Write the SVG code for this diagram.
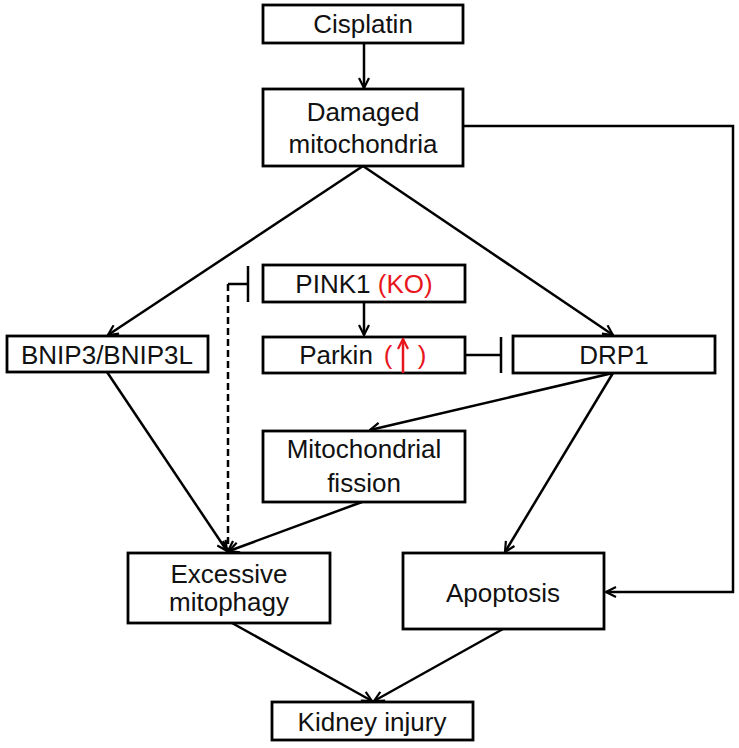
<svg xmlns="http://www.w3.org/2000/svg" width="739" height="748" viewBox="0 0 739 748">
<style>
.box{fill:#fff;stroke:#000;stroke-width:2.8}
.t{font-family:"Liberation Sans",Arial,sans-serif;font-size:26px;fill:#111;text-anchor:middle}
.red{fill:#e8161c}
.c{fill:none;stroke:#000;stroke-width:2.5}
</style>
<defs>
<marker id="ah" viewBox="0 0 12 12" refX="11" refY="6" markerWidth="12" markerHeight="12" markerUnits="userSpaceOnUse" orient="auto">
<path d="M1,1 L11,6 L1,11" fill="none" stroke="#000" stroke-width="2.2"/>
</marker>
<marker id="ahr" viewBox="0 0 12 12" refX="11" refY="6" markerWidth="12" markerHeight="12" markerUnits="userSpaceOnUse" orient="auto">
<path d="M1,1 L11,6 L1,11" fill="none" stroke="#e8161c" stroke-width="2.2"/>
</marker>
</defs>
<rect width="739" height="748" fill="#fff"/>
<g id="connectors">
<line class="c" x1="364" y1="43" x2="364" y2="88" marker-end="url(#ah)"/>
<polyline class="c" points="463,126 733,126 733,592 606,592" marker-end="url(#ah)"/>
<line class="c" x1="363" y1="166" x2="108" y2="335" marker-end="url(#ah)"/>
<line class="c" x1="363" y1="166" x2="613" y2="335" marker-end="url(#ah)"/>
<line class="c" x1="364" y1="302" x2="364" y2="335" marker-end="url(#ah)"/>
<line class="c" x1="465" y1="355" x2="501" y2="355"/>
<line class="c" x1="501" y1="337" x2="501" y2="373"/>
<line class="c" x1="228" y1="284" x2="248" y2="284"/>
<line class="c" x1="248" y1="266" x2="248" y2="302"/>
<line class="c" x1="228" y1="284" x2="228" y2="551" stroke-dasharray="7,4" marker-end="url(#ah)"/>
<line class="c" x1="107" y1="372" x2="227" y2="551" marker-end="url(#ah)"/>
<line class="c" x1="362" y1="502" x2="229" y2="551" marker-end="url(#ah)"/>
<line class="c" x1="613" y1="373" x2="370" y2="430" marker-end="url(#ah)"/>
<line class="c" x1="613" y1="373" x2="505" y2="552" marker-end="url(#ah)"/>
<line class="c" x1="232" y1="623" x2="372" y2="701" marker-end="url(#ah)"/>
<line class="c" x1="503" y1="629" x2="374" y2="701" marker-end="url(#ah)"/>
</g>
<g id="cisplatin"><rect class="box" x="263" y="5" width="200" height="38"/><text class="t" x="363" y="33">Cisplatin</text></g>
<g id="damaged"><rect class="box" x="263" y="89" width="200" height="77"/><text class="t" x="363" y="121">Damaged</text><text class="t" x="363" y="153">mitochondria</text></g>
<g id="pink1"><rect class="box" x="263" y="265" width="202" height="37"/><text class="t" x="364" y="293">PINK1 <tspan class="red">(KO)</tspan></text></g>
<g id="parkin"><rect class="box" x="263" y="337" width="202" height="36"/><text class="t" x="336" y="364">Parkin</text><text class="t red" x="388" y="364">(</text><text class="t red" x="422" y="364">)</text><line x1="403" y1="373" x2="403" y2="339" stroke="#e8161c" stroke-width="2.5" marker-end="url(#ahr)"/></g>
<g id="bnip3"><rect class="box" x="7" y="336" width="201" height="36"/><text class="t" x="107" y="364">BNIP3/BNIP3L</text></g>
<g id="drp1"><rect class="box" x="513" y="336" width="202" height="37"/><text class="t" x="614" y="364">DRP1</text></g>
<g id="fission"><rect class="box" x="263" y="431" width="202" height="71"/><text class="t" x="364" y="458">Mitochondrial</text><text class="t" x="364" y="492">fission</text></g>
<g id="mitophagy"><rect class="box" x="128" y="553" width="202" height="70"/><text class="t" x="229" y="583">Excessive</text><text class="t" x="229" y="611">mitophagy</text></g>
<g id="apoptosis"><rect class="box" x="403" y="553" width="201" height="76"/><text class="t" x="503" y="602">Apoptosis</text></g>
<g id="kidney"><rect class="box" x="272" y="702" width="201" height="38"/><text class="t" x="372" y="731">Kidney injury</text></g>
</svg>
